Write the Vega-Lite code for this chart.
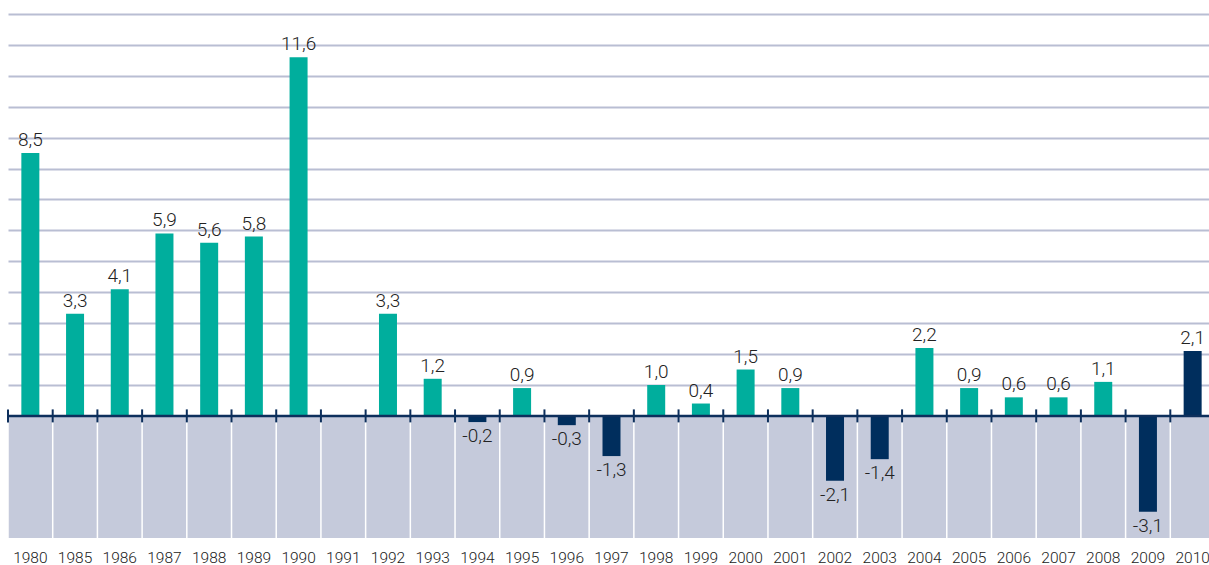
{
  "$schema": "https://vega.github.io/schema/vega-lite/v6.json",
  "autosize": {"type": "none"},
  "padding": {"left": 8, "top": 14, "right": 0, "bottom": 27},
  "width": 1201,
  "height": 524,
  "config": {
    "view": {"stroke": null},
    "font": "Roboto",
    "locale": {"number": {"decimal": ",", "thousands": ".", "grouping": [3], "currency": ["", " €"], "minus": "-"}}
  },
  "data": {
    "values": [
      {"jahr": "1980", "wert": 8.5, "gruppe": "A"},
      {"jahr": "1985", "wert": 3.3, "gruppe": "A"},
      {"jahr": "1986", "wert": 4.1, "gruppe": "A"},
      {"jahr": "1987", "wert": 5.9, "gruppe": "A"},
      {"jahr": "1988", "wert": 5.6, "gruppe": "A"},
      {"jahr": "1989", "wert": 5.8, "gruppe": "A"},
      {"jahr": "1990", "wert": 11.6, "gruppe": "A"},
      {"jahr": "1991", "wert": null, "gruppe": "A"},
      {"jahr": "1992", "wert": 3.3, "gruppe": "A"},
      {"jahr": "1993", "wert": 1.2, "gruppe": "A"},
      {"jahr": "1994", "wert": -0.2, "gruppe": "B"},
      {"jahr": "1995", "wert": 0.9, "gruppe": "A"},
      {"jahr": "1996", "wert": -0.3, "gruppe": "B"},
      {"jahr": "1997", "wert": -1.3, "gruppe": "B"},
      {"jahr": "1998", "wert": 1.0, "gruppe": "A"},
      {"jahr": "1999", "wert": 0.4, "gruppe": "A"},
      {"jahr": "2000", "wert": 1.5, "gruppe": "A"},
      {"jahr": "2001", "wert": 0.9, "gruppe": "A"},
      {"jahr": "2002", "wert": -2.1, "gruppe": "B"},
      {"jahr": "2003", "wert": -1.4, "gruppe": "B"},
      {"jahr": "2004", "wert": 2.2, "gruppe": "A"},
      {"jahr": "2005", "wert": 0.9, "gruppe": "A"},
      {"jahr": "2006", "wert": 0.6, "gruppe": "A"},
      {"jahr": "2007", "wert": 0.6, "gruppe": "A"},
      {"jahr": "2008", "wert": 1.1, "gruppe": "A"},
      {"jahr": "2009", "wert": -3.1, "gruppe": "B"},
      {"jahr": "2010", "wert": 2.1, "gruppe": "B"}
    ]
  },
  "encoding": {
    "x": {
      "field": "jahr", "type": "nominal", "sort": null,
      "scale": {"paddingInner": 0, "paddingOuter": 0, "range": [0, 1207]},
      "axis": {"title": null, "domain": false, "ticks": false, "labelAngle": 0, "labelPadding": 12, "labelFontSize": 15.5, "labelColor": "#222222", "labelFont": "Roboto", "labelFontWeight": 300}
    }
  },
  "layer": [
    {
      "data": {"values": [{}]},
      "mark": {"type": "rect", "color": "#c5cadb", "x": 0, "x2": {"expr": "width"}},
      "encoding": {
        "x": null,
        "y": {"datum": 0, "type": "quantitative", "scale": {"domain": [-3.95, 13], "nice": false, "zero": false},
          "axis": {"title": null, "labels": false, "ticks": false, "domain": false, "grid": true, "values": [1,2,3,4,5,6,7,8,9,10,11,12,13], "gridColor": "#b9bed3", "gridWidth": 2}},
        "y2": {"datum": -3.95}
      }
    },
    {
      "mark": {"type": "rule", "color": "#ffffff", "strokeWidth": 1.5},
      "encoding": {
        "x": {"field": "jahr", "type": "nominal", "sort": null, "bandPosition": 0},
        "y": {"datum": 0, "type": "quantitative"},
        "y2": {"datum": -3.95}
      }
    },
    {
      "mark": {"type": "bar", "width": 18},
      "encoding": {
        "y": {"field": "wert", "type": "quantitative"},
        "y2": {"datum": 0},
        "color": {"field": "gruppe", "type": "nominal", "scale": {"domain": ["A", "B"], "range": ["#00ae9d", "#002e5d"]}, "legend": null}
      }
    },
    {
      "data": {"values": [{}]},
      "mark": {"type": "rule", "color": "#0d2f5c", "strokeWidth": 2.5, "x": 0, "x2": {"expr": "width"}},
      "encoding": {
        "x": null,
        "y": {"datum": 0, "type": "quantitative"}
      }
    },
    {
      "mark": {"type": "rule", "color": "#0d2f5c", "strokeWidth": 2},
      "encoding": {
        "x": {"field": "jahr", "type": "nominal", "sort": null, "bandPosition": 0},
        "y": {"datum": 0.21, "type": "quantitative"},
        "y2": {"datum": -0.21}
      }
    },
    {
      "transform": [{"filter": "datum.wert != null && datum.wert >= 0"}],
      "mark": {"type": "text", "baseline": "alphabetic", "dy": -7, "fontSize": 19, "fontWeight": 300, "color": "#222222"},
      "encoding": {
        "y": {"field": "wert", "type": "quantitative"},
        "text": {"field": "wert", "type": "quantitative", "format": ".1f"}
      }
    },
    {
      "transform": [{"filter": "datum.wert != null && datum.wert < 0"}],
      "mark": {"type": "text", "baseline": "top", "dy": 5, "fontSize": 19, "fontWeight": 300, "color": "#222222"},
      "encoding": {
        "y": {"field": "wert", "type": "quantitative"},
        "text": {"field": "wert", "type": "quantitative", "format": ".1f"}
      }
    }
  ]
}
